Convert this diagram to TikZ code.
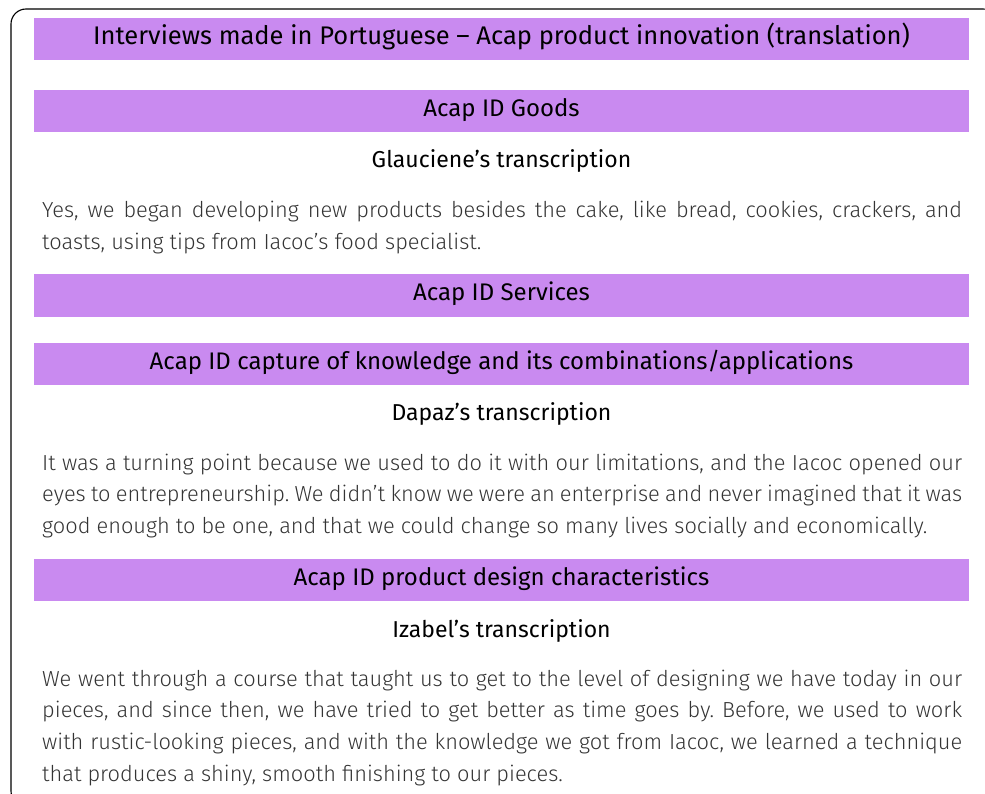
\documentclass[tikz,border=0pt]{standalone}
\usepackage{fontspec}
\setmainfont{Fira Sans}
\newfontfamily\lightfont{Fira Sans Light}
\usetikzlibrary{positioning}
\definecolor{hdrpurple}{RGB}{201,138,240}
\definecolor{bodygray}{RGB}{52,52,52}
\newcommand\bodyfont{\lightfont\fontsize{21.8}{31.9}\selectfont\frenchspacing
  \hyphenpenalty=10000\relax\tolerance=9999\relax}
\tikzset{
hdrbox/.style={
  fill=hdrpurple,
  minimum width=935pt,
  minimum height=42pt,
  inner sep=0pt,
  text height=15pt,
  text depth=4pt,
  font=\fontsize{24}{28}\selectfont
  },
subtitle/.style={
  inner sep=0pt,
  anchor=base,
  font=\fontsize{23}{27}\selectfont
  },
bodytext/.style={
  inner sep=0pt,
  anchor=base west,
  text width=920pt,
  align=justify,
  text=bodygray,
  font=\bodyfont
  }
}

\begin{document}
\begin{tikzpicture}[x=1pt,y=-1pt]
\useasboundingbox (0,0) rectangle (985,794);
\draw[line width=1.1pt,rounded corners=15pt] (11,9) rectangle (998,806);

\node[hdrbox,font=\fontsize{25.5}{30}\selectfont] (title) at (501.5,39)
  {Interviews made in Portuguese -- Acap product innovation (translation)};

% goods
\node[hdrbox] (goods) at (501.5,111) {Acap ID Goods};
\node[subtitle] (glauciene) at (501.5,168) {Glauciene’s transcription};
\node[bodytext] (glauc-txt) at (42,218)
  {Yes, we began developing new products besides the cake, like bread, cookies, crackers, and\linebreak
   toasts, using tips from Iacoc’s food specialist.};

% services
\node[hdrbox] (services) at (501.5,295.5) {Acap ID Services};

\node[hdrbox] (capture) at (501.5,363.5)
  {Acap ID capture of knowledge and its combinations/applications};
\node[subtitle] (dapaz) at (501.5,420) {Dapaz’s transcription};
\node[bodytext] (dapaz-txt) at (42,470)
  {It was a turning point because we used to do it with our limitations, and the Iacoc opened our\linebreak
   eyes to entrepreneurship. We didn’t know we were an enterprise and never imagined that it was\linebreak
   good enough to be one, and that we could change so many lives socially and economically.};

% design
\node[hdrbox] (design) at (501.5,580) {Acap ID product design characteristics};
\node[subtitle] (izabel) at (501.5,637) {Izabel’s transcription};
\node[bodytext] (izabel-txt) at (42,686)
  {We went through a course that taught us to get to the level of designing we have today in our\linebreak
   pieces, and since then, we have tried to get better as time goes by. Before, we used to work\linebreak
   with rustic-looking pieces, and with the knowledge we got from Iacoc, we learned a technique\linebreak
   that produces a shiny, smooth finishing to our pieces.};

\end{tikzpicture}
\end{document}
